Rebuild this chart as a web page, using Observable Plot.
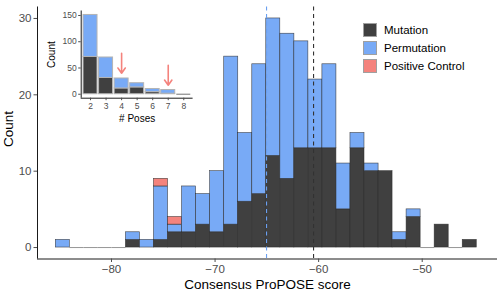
<!DOCTYPE html>
<html><head><meta charset="utf-8">
<script src="https://cdn.jsdelivr.net/npm/d3@7"></script>
<script src="https://cdn.jsdelivr.net/npm/@observablehq/plot@0.6"></script>
<style>
body{margin:0;background:#fff;font-family:"Liberation Sans",Arial,Helvetica,sans-serif;}
#wrap{position:relative;width:498px;height:291px;overflow:hidden;}
#main{position:absolute;left:0;top:0;}
#inset{position:absolute;left:40px;top:0;}
#legend{position:absolute;left:363px;top:22.5px;font-size:11.5px;color:#000;}
.item{position:absolute;left:0;height:14px;white-space:nowrap;}
.key{position:absolute;left:0;top:0;width:14px;height:14px;box-sizing:border-box;border:0.6px solid #a0a0a0;}
.lab{position:absolute;left:21px;top:0;line-height:14px;}
</style></head>
<body><div id="wrap"><div id="main"></div><div id="inset"></div><div id="legend"></div></div>
<script>
// ---- main histogram (30 bins) ----
const binCenters = [-84.70,-83.35,-81.99,-80.64,-79.28,-77.93,-76.57,-75.22,-73.86,-72.51,
  -71.15,-69.80,-68.44,-67.09,-65.73,-64.38,-63.02,-61.67,-60.31,-58.96,
  -57.60,-56.25,-54.89,-53.54,-52.18,-50.83,-49.47,-48.12,-46.76,-45.41];
const binWidth = 1.355;
const mutation        = [0,0,0,0,0,1,0,1,2,2,3,2,3,6,7,12,9,13,13,13,5,13,10,10,1,4,0,3,0,1];
const permutation     = [1,0,0,0,0,1,1,7,1,6,4,8,22,9,17,18,19,14,9,11,6,2,1,0,1,1,0,0,0,0];
const positiveControl = [0,0,0,0,0,0,0,1,1,0,0,0,0,0,0,0,0,0,0,0,0,0,0,0,0,0,0,0,0,0];
const groups = ["Mutation","Permutation","Positive Control"];
const colors = ["#404040","#78AAF6","#F4837D"];
const medianPermutation = -65.03;
const medianMutation = -60.49;
const xTicks = [-80,-70,-60,-50];
const yTicks = [0,10,20,30];
const xTitle = "Consensus ProPOSE score";
const yTitle = "Count";

// ---- inset (# poses) ----
const poses = [2,3,4,5,6,7,8];
const insetMutation    = [71,31,11,13,4,1,0];
const insetPermutation = [80,39,19,8,6,7,0];
const arrowPoses = [4,7];
const arrowFrom  = [78,55];
const arrowTo    = [40,17];
const insetYTicks = [0,50,100,150];
const insetXTitle = "# Poses";
const insetYTitle = "Count";

const FONT = '"Liberation Sans", Arial, Helvetica, sans-serif';

// build main table
const series = [mutation, permutation, positiveControl];
const rows = [];
binCenters.forEach((c,i)=>{
  groups.forEach((g,k)=>{
    rows.push({group:g, x1:c-binWidth/2, x2:c+binWidth/2, count:series[k][i]});
  });
});
const zeroBins = binCenters.map((c,i)=>({x1:c-binWidth/2, x2:c+binWidth/2, total:mutation[i]+permutation[i]+positiveControl[i]})).filter(d=>d.total===0);

const xDomain = [-87.145,-42.73], yDomain = [-1.5,31.5];

const main = Plot.plot({
  width:498, height:291, marginLeft:37, marginRight:1, marginTop:6.5, marginBottom:32.5,
  style:{fontFamily:FONT, background:"transparent", overflow:"visible"},
  x:{domain:xDomain}, y:{domain:yDomain},
  color:{domain:groups, range:colors},
  marks:[
    Plot.rectY(rows.filter(d=>d.count>0), {x1:"x1", x2:"x2", y:"count", fill:"group", stroke:"#2a2a2a", strokeWidth:0.6, strokeOpacity:0.85}),
    Plot.ruleY(zeroBins, {x1:"x1", x2:"x2", y:0, stroke:"#8a8a8a", strokeWidth:0.9}),
    Plot.ruleX([medianPermutation], {stroke:"#6a9ff0", strokeWidth:1.1, strokeDasharray:"4,3.5"}),
    Plot.ruleX([medianMutation], {stroke:"#333", strokeWidth:1.1, strokeDasharray:"4,3.5"}),
    Plot.ruleX([xDomain[0]], {stroke:"#000", strokeWidth:0.9}),
    Plot.ruleY([yDomain[0]], {stroke:"#000", strokeWidth:0.9}),
    Plot.axisX(xTicks, {tickSize:3.5, tickPadding:2.5, fontSize:11.5, color:"#4d4d4d", label:null}),
    Plot.axisY(yTicks, {tickSize:3.5, tickPadding:2.5, fontSize:11.5, color:"#4d4d4d", label:null}),
    Plot.text([yTitle], {text:d=>d, frameAnchor:"left", dx:-29, dy:-4, rotate:-90, fontSize:13.5, textAnchor:"middle", lineAnchor:"middle", fill:"#000"}),
    Plot.text([xTitle], {text:d=>d, frameAnchor:"bottom", dy:25.5, fontSize:13.5, textAnchor:"middle", lineAnchor:"middle", fill:"#000"})
  ]
});
document.getElementById("main").appendChild(main);

// build inset table
const insetSeries = [insetMutation, insetPermutation];
const insetRows = [];
poses.forEach((p,i)=>{
  insetSeries.forEach((s,k)=>{
    insetRows.push({group:groups[k], x1:p-0.45, x2:p+0.45, count:s[i]});
  });
});
const insetZero = poses.map((p,i)=>({x1:p-0.45, x2:p+0.45, total:insetMutation[i]+insetPermutation[i]})).filter(d=>d.total===0);
const arrows = arrowPoses.map((p,i)=>({p, from:arrowFrom[i], to:arrowTo[i]}));
const ixDomain = [1.4,8.6], iyDomain = [-7.55,158.55];

const inset = Plot.plot({
  width:160, height:125, marginLeft:40.7, marginRight:7.4, marginTop:10.5, marginBottom:27.3,
  style:{fontFamily:FONT, background:"transparent", overflow:"visible"},
  x:{domain:ixDomain}, y:{domain:iyDomain},
  color:{domain:groups, range:colors},
  marks:[
    Plot.rectY(insetRows.filter(d=>d.count>0), {x1:"x1", x2:"x2", y:"count", fill:"group", stroke:"#b4b4b4", strokeWidth:1}),
    Plot.ruleY(insetZero, {x1:"x1", x2:"x2", y:0, stroke:"#8a8a8a", strokeWidth:1.2}),
    Plot.arrow(arrows, {x1:"p", x2:"p", y1:"from", y2:"to", stroke:"#F4837D", strokeWidth:1.6, headLength:6, headAngle:70}),
    Plot.ruleX([ixDomain[0]], {stroke:"#000", strokeWidth:0.9}),
    Plot.ruleY([iyDomain[0]], {stroke:"#000", strokeWidth:0.9}),
    Plot.axisX(poses, {tickSize:2.5, tickPadding:2, fontSize:8.5, color:"#4d4d4d", label:null, tickFormat:d=>String(d)}),
    Plot.axisY(insetYTicks, {tickSize:2.5, tickPadding:2, fontSize:8.5, color:"#4d4d4d", label:null}),
    Plot.text([insetYTitle], {text:d=>d, frameAnchor:"left", dx:-29, rotate:-90, fontSize:10, textAnchor:"middle", lineAnchor:"middle", fill:"#000"}),
    Plot.text([insetXTitle], {text:d=>d, frameAnchor:"bottom", dy:20.3, fontSize:10, textAnchor:"middle", lineAnchor:"middle", fill:"#000"})
  ]
});
document.getElementById("inset").appendChild(inset);

// legend
const leg = document.getElementById("legend");
groups.forEach((g,i)=>{
  const it = document.createElement("div");
  it.className = "item";
  it.style.top = (i*18)+"px";
  it.innerHTML = `<div class="key" style="background:${colors[i]}"></div><div class="lab">${g}</div>`;
  leg.appendChild(it);
});
</script>
</body></html>
